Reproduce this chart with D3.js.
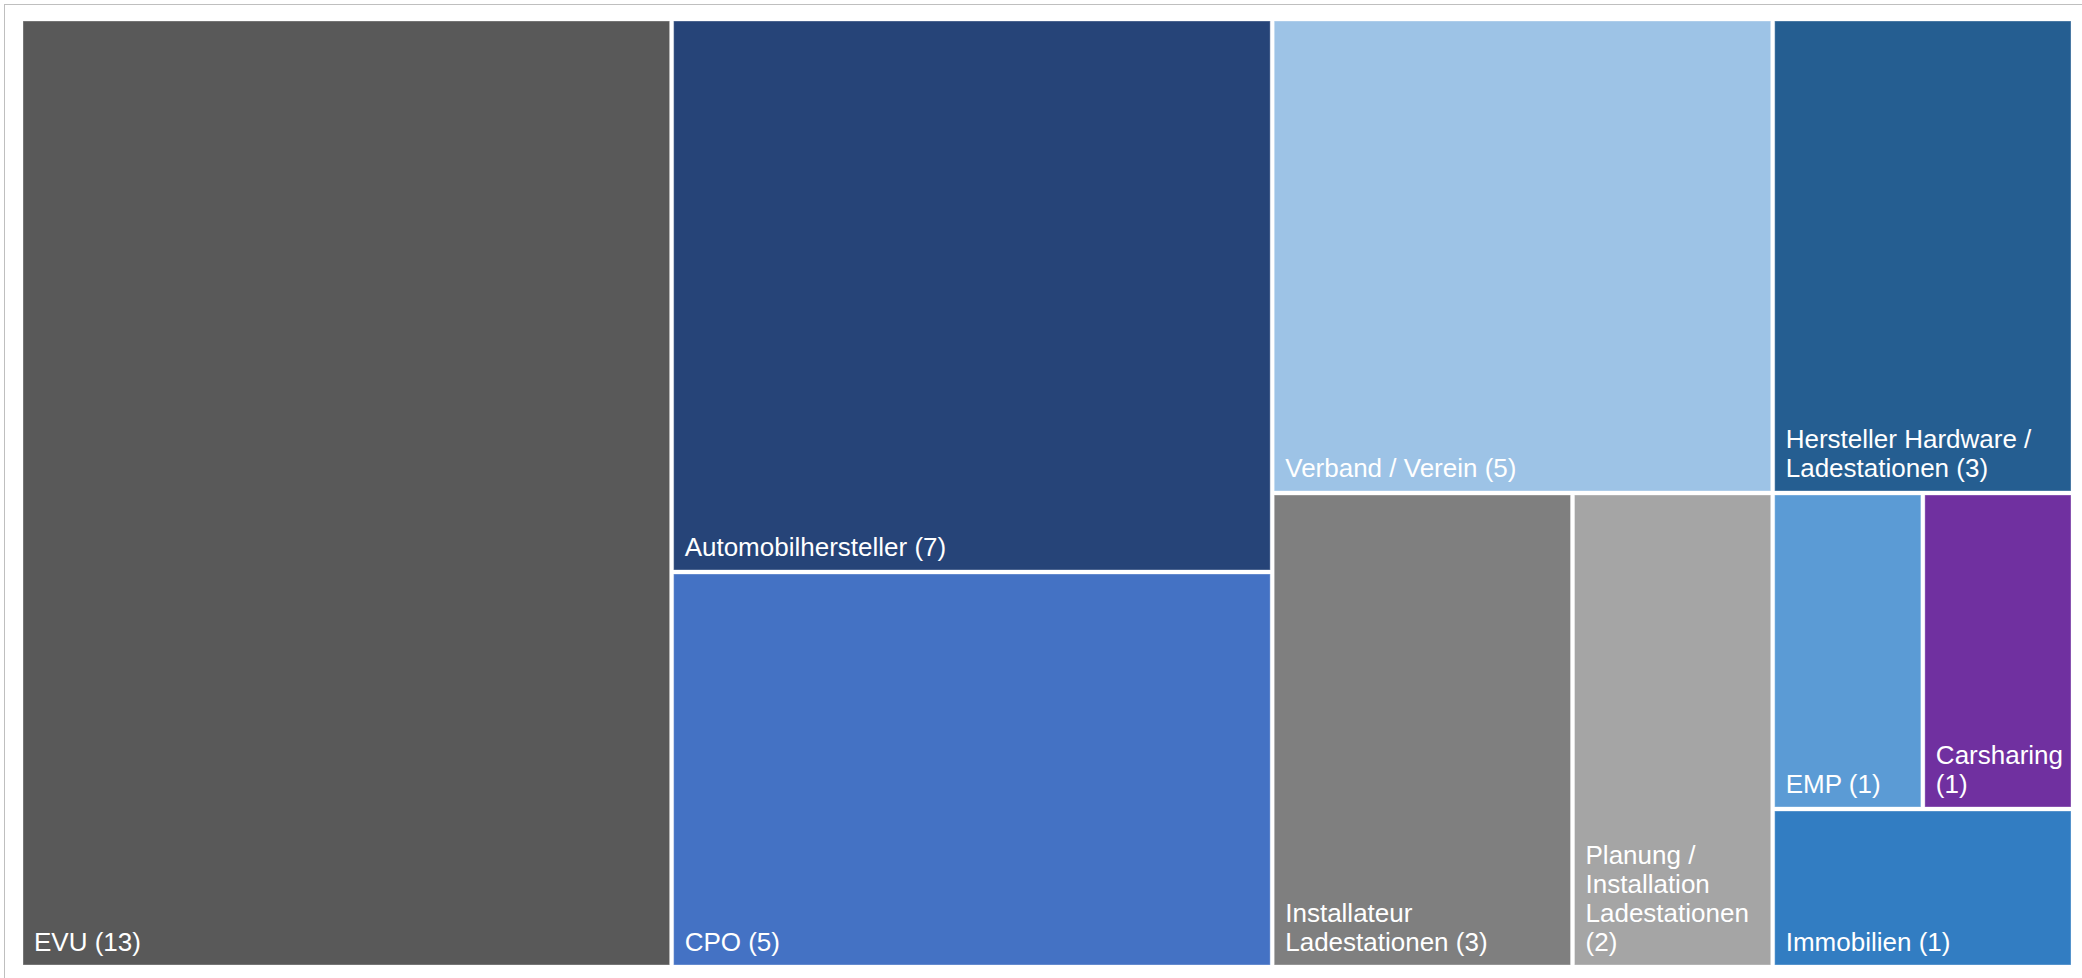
<!DOCTYPE html>
<html>
<head>
<meta charset="utf-8">
<script src="https://cdn.jsdelivr.net/npm/d3@7"></script>
<style>
  html, body { margin: 0; padding: 0; background: #ffffff; }
  svg { display: block; }
  text { font-family: "Liberation Sans", Arial, sans-serif; }
</style>
</head>
<body>
<svg id="chart" width="2082" height="978"></svg>
<script>
// Stakeholder groups, their counts and fill colours
const categories = [
  "EVU", "Automobilhersteller", "CPO", "Verband / Verein",
  "Installateur Ladestationen", "Planung / Installation Ladestationen",
  "Hersteller Hardware / Ladestationen", "EMP", "Carsharing", "Immobilien"
];
const counts = [13, 7, 5, 5, 3, 2, 3, 1, 1, 1];
const colors = [
  "#595959", "#264478", "#4472C4", "#9DC3E6",
  "#7F7F7F", "#A5A5A5", "#255E91", "#5B9BD5", "#7030A0", "#327DC2"
];
// Grouping of categories into the treemap columns and sub-rows
const groups = [
  ["EVU"],
  ["Automobilhersteller", "CPO"],
  ["Verband / Verein", ["Installateur Ladestationen", "Planung / Installation Ladestationen"]],
  ["Hersteller Hardware / Ladestationen", ["EMP", "Carsharing"], "Immobilien"]
];

const W = 2082, H = 978;
const plot = { x0: 23, y0: 21, x1: 2071, y1: 965 };
const fontSize = 26, lineH = 29, padX = 11, padB = 14;

const svg = d3.select("#chart");

// outer chart frame
svg.append("rect")
  .attr("x", 4.5).attr("y", 4.5)
  .attr("width", W + 20).attr("height", H + 20)
  .attr("fill", "none").attr("stroke", "#BFBFBF").attr("stroke-width", 1);

const lookup = new Map(categories.map((c, i) => [c, { name: c, value: counts[i], color: colors[i] }]));
function build(item) {
  if (Array.isArray(item)) return { children: item.map(build) };
  return lookup.get(item);
}
const rootData = { children: groups.map(build) };

const root = d3.hierarchy(rootData)
  .sum(d => d.value || 0);

// columns left to right, then stacked top to bottom, then side by side
const tile = (node, x0, y0, x1, y1) =>
  (node.depth % 2 === 0 ? d3.treemapDice : d3.treemapSlice)(node, x0, y0, x1, y1);

d3.treemap()
  .tile(tile)
  .size([plot.x1 - plot.x0, plot.y1 - plot.y0])
  .paddingInner(4)
  .round(false)(root);

const leaves = root.leaves();
const cell = svg.append("g")
  .attr("transform", `translate(${plot.x0},${plot.y0})`)
  .selectAll("g")
  .data(leaves)
  .join("g")
  .attr("transform", d => `translate(${d.x0},${d.y0})`);

cell.append("rect")
  .attr("width", d => d.x1 - d.x0)
  .attr("height", d => d.y1 - d.y0)
  .attr("fill", d => d.data.color)
  .attr("stroke", "rgba(255,255,255,0.35)")
  .attr("stroke-width", 1);

// labels: wrapped words, anchored at the bottom-left corner of each tile
cell.each(function(d) {
  const g = d3.select(this);
  const w = d.x1 - d.x0, h = d.y1 - d.y0;
  const words = (d.data.name + " (" + d.data.value + ")").split(" ");
  const maxW = w - 2 * padX;
  const probe = g.append("text").attr("font-size", fontSize);
  const lines = [];
  let cur = "";
  for (const word of words) {
    const test = cur ? cur + " " + word : word;
    probe.text(test);
    if (cur && probe.node().getComputedTextLength() > maxW) {
      lines.push(cur);
      cur = word;
    } else {
      cur = test;
    }
  }
  if (cur) lines.push(cur);
  probe.remove();

  const text = g.append("text")
    .attr("font-size", fontSize)
    .attr("fill", "#ffffff");
  lines.forEach((ln, i) => {
    text.append("tspan")
      .attr("x", padX)
      .attr("y", h - padB - (lines.length - 1 - i) * lineH)
      .text(ln);
  });
});
</script>
</body>
</html>
